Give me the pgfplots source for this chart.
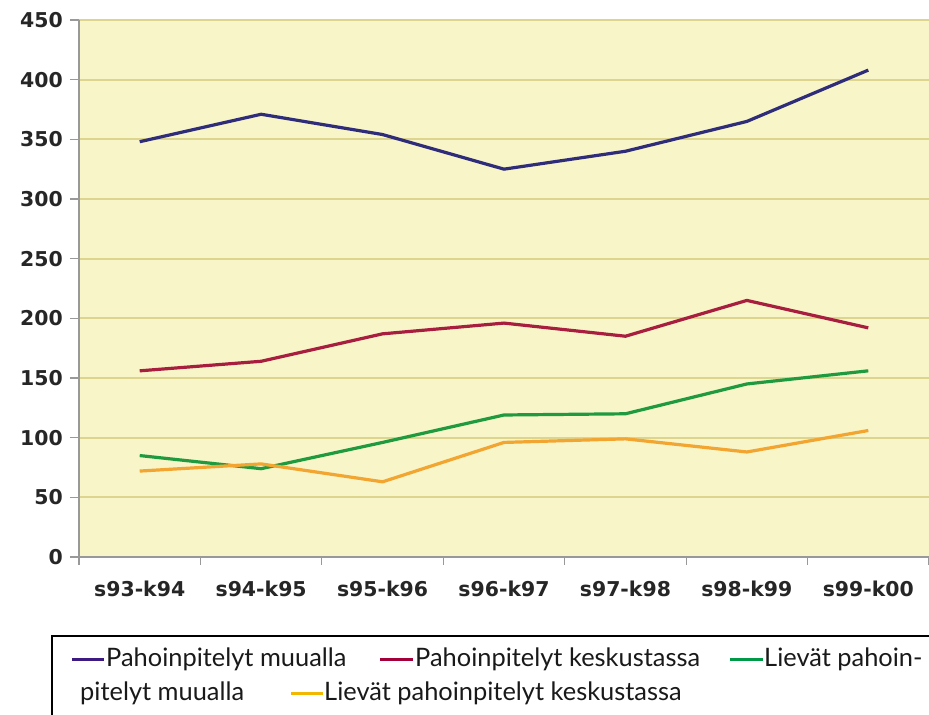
\documentclass[border=0pt]{standalone}
\usepackage{pgfplots}
\pgfplotsset{compat=1.18}
\usepackage{fontspec}
\setmainfont{Lato}
\newfontfamily\tickfont{DejaVu Sans}
\definecolor{bgcol}{HTML}{F8F5C9}
\definecolor{gridcol}{HTML}{DDD48E}
\definecolor{cblue}{HTML}{2F2D7A}
\definecolor{cred}{HTML}{A81E3E}
\definecolor{cgreen}{HTML}{1F9A3F}
\definecolor{corange}{HTML}{F2A530}
\definecolor{lblue}{HTML}{3D1A82}
\definecolor{lred}{HTML}{A3003A}
\definecolor{lgreen}{HTML}{009A47}
\definecolor{lyellow}{HTML}{F2B700}
\begin{document}
\begin{tikzpicture}[x=1bp,y=1bp]
\useasboundingbox (0,0) rectangle (929,715);
\begin{axis}[
  at={(79bp,158bp)}, anchor=south west,
  scale only axis, width=850bp, height=537bp,
  xmin=-0.5, xmax=6.5, ymin=0, ymax=450,
  ytick={0,50,...,450},
  xtick={0,...,6},
  xticklabels={s93-k94,s94-k95,s95-k96,s96-k97,s97-k98,s98-k99,s99-k00},
  minor xtick={-0.5,0.5,...,6.5},
  major x tick style={draw=none},
  axis lines*=left,
  axis line style={draw=black!40, line width=1.5bp, -},
  every tick/.style={draw=black!40, line width=1.2bp},
  tick align=outside,
  major tick length=9bp, minor tick length=8bp,
  ymajorgrids,
  grid style={draw=gridcol, line width=2bp},
  axis background/.style={fill=bgcol},
  tick label style={font=\tickfont\bfseries\fontsize{20.5}{24}\selectfont, text=black!85},
  /pgf/number format/assume math mode=true,
  yticklabel style={inner sep=0pt, xshift=-7bp},
  xticklabel style={inner sep=0pt, yshift=-15bp},
  clip=false,
]
\addplot[cblue, line width=3.2bp] coordinates {(0,348) (1,371) (2,354) (3,325) (4,340) (5,365) (6,408)};
\addplot[cred, line width=3.2bp] coordinates {(0,156) (1,164) (2,187) (3,196) (4,185) (5,215) (6,192)};
\addplot[cgreen, line width=3.2bp] coordinates {(0,85) (1,74) (2,96) (3,119) (4,120) (5,145) (6,156)};
\addplot[corange, line width=3.2bp] coordinates {(0,72) (1,78) (2,63) (3,96) (4,99) (5,88) (6,106)};
\end{axis}
% legend box
\draw[black, line width=1.5bp] (52,0) -- (52,79) -- (935,79);
\begin{scope}[every node/.style={anchor=base west, inner sep=0pt, font=\fontsize{25.5}{30}\selectfont, text=black!90}]
\fill[lblue] (72,53.5) rectangle (104,57);
\node at (106,48) {Pahoinpitelyt muualla};
\fill[lred] (380,53.5) rectangle (413,57);
\node at (415,48) {Pahoinpitelyt keskustassa};
\fill[lgreen] (730,53.5) rectangle (763,57);
\node at (764,48) {Lievät pahoin-};
\node at (80,14) {pitelyt muualla};
\fill[lyellow] (291,19.5) rectangle (323,23);
\node at (324,14) {Lievät pahoinpitelyt keskustassa};
\end{scope}
\end{tikzpicture}
\end{document}
